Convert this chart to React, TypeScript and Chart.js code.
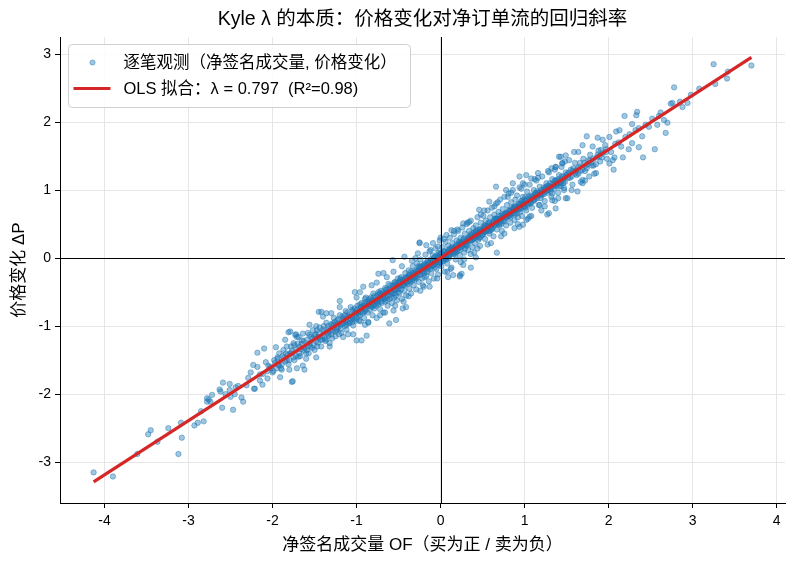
import React, { useEffect, useRef } from "react";
import { Chart, registerables } from "chart.js";

Chart.register(...registerables);

const TITLE = "Kyle λ 的本质：价格变化对净订单流的回归斜率";
const X_LABEL = "净签名成交量 OF（买为正 / 卖为负）";
const Y_LABEL = "价格变化 ΔP";
const SCATTER_LABEL = "逐笔观测（净签名成交量, 价格变化）";
const FIT_LABEL = "OLS 拟合：λ = 0.797  (R²=0.98)";

const xTicks = [-4, -3, -2, -1, 0, 1, 2, 3, 4];
const yTicks = [-3, -2, -1, 0, 1, 2, 3];
const X_MIN = -4.53;
const X_MAX = 4.1;
const Y_MIN = -3.6;
const Y_MAX = 3.25;

const fitX = [-4.13, 3.7];
const fitY = [-3.29, 2.95];

const lowerTail: number[][] = [
  [-4.13, -3.15], [-3.9, -3.21], [-3.61, -2.88], [-3.48, -2.59], [-3.45, -2.53],
  [-3.37, -2.7], [-3.24, -2.5], [-3.12, -2.88], [-3.09, -2.42], [-3.08, -2.64],
  [-2.93, -2.46], [-2.89, -2.42], [-2.82, -2.4], [-2.85, -2.25], [-2.78, -2.06],
  [-2.78, -2.11], [-2.74, -2.11], [-2.72, -2.01], [-2.63, -1.93], [-2.6, -2.2],
  [-2.59, -1.83], [-2.56, -2.0], [-2.51, -1.85], [-2.51, -1.94], [-2.5, -2.04],
  [-2.47, -2.23], [-2.45, -2.0], [-2.41, -1.88], [-2.37, -2.05], [-2.35, -2.11],
  [-2.31, -1.87], [-2.22, -1.92], [-2.15, -1.8], [-2.12, -1.86], [-1.77, -1.82],
  [-2.23, -1.57], [-2.21, -1.92], [-2.18, -1.39], [-2.18, -1.6], [-2.15, -1.71],
  [-2.1, -1.33], [-2.08, -1.53], [-2.06, -1.77], [-2.03, -1.6], [-1.96, -1.31],
  [-1.94, -1.48], [-1.93, -1.57], [-1.91, -1.75], [-1.89, -1.64], [-1.87, -1.35],
  [-1.85, -1.2], [-1.83, -1.5], [-1.81, -1.09], [-1.8, -1.64], [-1.79, -1.4],
  [-1.76, -1.81], [-1.75, -1.25], [-1.73, -1.13], [-1.71, -1.62], [-1.69, -1.45],
  [-1.68, -1.3], [-1.65, -1.21], [-1.64, -1.11], [-1.62, -1.64], [-1.6, -1.48],
  [-1.59, -1.35], [-1.56, -1.25], [-1.56, -1.13], [-1.52, -1.06], [-1.5, -1.35],
  [-1.48, -1.0], [-1.46, -1.16], [-1.45, -0.79], [-1.79, -1.08], [-1.71, -1.16],
  [-1.42, -0.79], [-1.36, -0.81], [-1.3, -0.81], [-1.2, -0.63], [-1.16, -1.16],
  [-1.04, -1.12], [-1.02, -0.5], [-1.0, -1.21], [-0.94, -1.21], [-0.88, -1.14],
  [-0.92, -0.42], [-2.76, -2.08], [-2.62, -1.96], [-2.44, -1.9], [-2.29, -1.76],
  [-2.26, -1.68], [-2.0, -1.68], [-1.98, -1.5], [-1.95, -1.62], [-1.92, -1.4],
  [-1.89, -1.56], [-1.86, -1.46], [-1.83, -1.3], [-1.8, -1.5], [-1.77, -1.36],
  [-1.74, -1.28], [-1.72, -1.44], [-1.69, -1.16], [-1.66, -1.34], [-1.63, -1.22],
  [-1.6, -1.4], [-1.58, -1.1], [-1.55, -1.3], [-1.52, -1.18],
];

const coreNeg: number[][] = [
  [-1.48, -1.22], [-1.45, -1.1], [-1.42, -1.3], [-1.4, -1.05], [-1.38, -1.18],
  [-1.36, -0.95], [-1.34, -1.12], [-1.32, -1.25], [-1.3, -0.98], [-1.28, -1.08],
  [-1.27, -0.88], [-1.25, -1.15], [-1.23, -0.92], [-1.22, -1.02], [-1.2, -0.84],
  [-1.18, -1.1], [-1.17, -0.97], [-1.15, -0.9], [-1.13, -0.78], [-1.12, -1.05],
  [-1.1, -0.86], [-1.08, -0.95], [-1.07, -0.72], [-1.05, -0.88], [-1.04, -0.99],
  [-1.02, -0.8], [-1.01, -0.92], [-0.99, -0.7], [-0.98, -0.85], [-0.96, -0.78],
  [-0.95, -0.93], [-0.94, -0.66], [-0.92, -0.74], [-0.91, -0.88], [-0.9, -0.6],
  [-0.88, -0.71], [-0.87, -0.8], [-0.86, -0.95], [-0.85, -0.65], [-0.83, -0.58],
  [-0.82, -0.72], [-0.81, -0.84], [-0.8, -0.52], [-0.78, -0.63], [-0.77, -0.7],
  [-0.76, -0.88], [-0.75, -0.55], [-0.74, -0.61], [-0.72, -0.75], [-0.71, -0.48],
  [-0.7, -0.66], [-0.69, -0.57], [-0.68, -0.8], [-0.66, -0.44], [-0.65, -0.52],
  [-0.64, -0.62], [-0.63, -0.7], [-0.62, -0.38], [-0.6, -0.5], [-0.59, -0.58],
  [-0.58, -0.66], [-0.57, -0.42], [-0.56, -0.77], [-0.55, -0.47], [-0.54, -0.35],
  [-0.53, -0.55], [-0.52, -0.62], [-0.51, -0.3], [-0.5, -0.45], [-0.49, -0.52],
  [-0.48, -0.36], [-0.47, -0.28], [-0.46, -0.6], [-0.45, -0.4], [-0.44, -0.33],
  [-0.43, -0.48], [-0.42, -0.22], [-0.41, -0.55], [-0.4, -0.3], [-0.39, -0.38],
  [-0.38, -0.18], [-0.37, -0.45], [-0.36, -0.27], [-0.35, -0.52], [-0.34, -0.33],
  [-0.33, -0.12], [-0.32, -0.4], [-0.31, -0.22], [-0.3, -0.28], [-0.29, -0.46],
  [-0.28, -0.08], [-0.27, -0.18], [-0.26, -0.35], [-0.25, -0.25], [-0.24, -0.02],
  [-0.23, -0.14], [-0.22, -0.3], [-0.21, -0.4], [-0.2, -0.1], [-0.19, -0.2],
  [-0.18, 0.05], [-0.17, -0.26], [-0.16, -0.06], [-0.15, -0.15], [-0.14, -0.34],
  [-0.13, 0.1], [-0.12, -0.02], [-0.11, -0.22], [-0.1, -0.12], [-0.09, 0.04],
  [-0.08, -0.3], [-0.07, -0.05], [-0.06, 0.14], [-0.05, -0.16], [-0.04, 0.0],
  [-0.03, -0.24], [-0.02, 0.08], [-0.01, -0.08], [-0.95, -0.72], [-0.88, -0.64],
  [-0.79, -0.74], [-0.73, -0.52], [-0.67, -0.6], [-0.61, -0.46], [-0.55, -0.52],
  [-0.49, -0.34], [-0.43, -0.4], [-0.37, -0.24], [-0.31, -0.32], [-0.25, -0.14],
  [-0.19, -0.28], [-0.13, -0.06], [-0.07, -0.14], [-0.01, 0.06], [-1.05, -0.76],
  [-1.11, -0.94], [-1.17, -0.86], [-1.23, -1.04], [-1.29, -0.96], [-1.35, -1.1],
  [-1.41, -1.16], [-1.47, -1.06], [-0.74, -0.23], [-0.68, -0.22], [-0.57, -0.03],
  [-0.43, 0.02], [-0.27, 0.07], [-0.25, 0.22], [-0.17, 0.19], [-0.09, 0.22],
  [-0.41, -0.72], [-0.45, -0.74], [-0.53, -0.91], [-0.61, -0.96], [-0.01, 0.26],
  [-0.03, 0.17], [-0.13, -0.42], [-0.25, 0.23],
];

const corePos: number[][] = [
  [0.0, 0.02], [0.01, -0.12], [0.02, 0.16], [0.03, -0.04], [0.04, 0.1],
  [0.05, -0.2], [0.06, 0.24], [0.07, 0.05], [0.08, -0.08], [0.09, 0.18],
  [0.1, 0.0], [0.11, 0.3], [0.12, 0.12], [0.13, -0.14], [0.14, 0.22],
  [0.15, 0.06], [0.16, 0.35], [0.17, 0.15], [0.18, -0.02], [0.19, 0.26],
  [0.2, 0.1], [0.21, 0.4], [0.22, 0.2], [0.23, 0.04], [0.24, 0.3],
  [0.25, 0.16], [0.26, 0.45], [0.27, 0.24], [0.28, 0.08], [0.29, 0.36],
  [0.3, 0.2], [0.31, 0.5], [0.32, 0.28], [0.33, 0.12], [0.34, 0.4],
  [0.35, 0.26], [0.36, 0.55], [0.37, 0.32], [0.38, 0.16], [0.39, 0.44],
  [0.4, 0.3], [0.41, 0.22], [0.42, 0.48], [0.43, 0.36], [0.44, 0.6],
  [0.45, 0.27], [0.46, 0.42], [0.47, 0.18], [0.48, 0.52], [0.49, 0.38],
  [0.5, 0.34], [0.51, 0.62], [0.52, 0.45], [0.53, 0.28], [0.54, 0.55],
  [0.55, 0.4], [0.56, 0.7], [0.57, 0.48], [0.58, 0.36], [0.59, 0.6],
  [0.6, 0.44], [0.61, 0.74], [0.62, 0.52], [0.63, 0.32], [0.64, 0.64],
  [0.65, 0.5], [0.66, 0.8], [0.67, 0.42], [0.68, 0.58], [0.69, 0.68],
  [0.7, 0.48], [0.71, 0.86], [0.72, 0.6], [0.73, 0.4], [0.74, 0.72],
  [0.75, 0.55], [0.76, 0.9], [0.77, 0.64], [0.78, 0.48], [0.79, 0.78],
  [0.8, 0.62], [0.81, 0.95], [0.82, 0.7], [0.83, 0.52], [0.84, 0.82],
  [0.85, 0.66], [0.86, 1.0], [0.87, 0.74], [0.88, 0.56], [0.89, 0.86],
  [0.9, 0.7], [0.91, 0.92], [0.92, 0.6], [0.93, 0.78], [0.94, 1.04],
  [0.95, 0.68], [0.96, 0.84], [0.97, 0.62], [0.98, 0.9], [0.99, 0.76],
  [1.0, 0.86], [1.02, 0.7], [1.03, 0.98], [1.05, 0.82], [1.06, 1.08],
  [1.08, 0.9], [1.09, 0.74], [1.11, 1.0], [1.12, 0.86], [1.14, 1.14],
  [1.15, 0.94], [1.17, 0.78], [1.18, 1.05], [1.2, 0.92], [1.21, 1.2],
  [1.23, 1.0], [1.24, 0.84], [1.26, 1.1], [1.27, 0.96], [1.29, 1.26],
  [1.3, 1.04], [1.32, 0.9], [1.33, 1.16], [1.35, 1.02], [1.36, 1.3],
  [1.38, 1.1], [1.4, 0.96], [1.41, 1.22], [1.43, 1.06], [1.44, 1.34],
  [1.46, 1.14], [1.47, 1.0], [1.49, 1.26], [0.05, 0.0], [0.11, 0.14],
  [0.17, 0.06], [0.23, 0.22], [0.29, 0.14], [0.35, 0.32], [0.41, 0.36],
  [0.47, 0.3], [0.53, 0.46], [0.59, 0.4], [0.65, 0.58], [0.71, 0.52],
  [0.77, 0.66], [0.83, 0.6], [0.89, 0.76], [0.95, 0.72], [1.01, 0.9],
  [1.07, 0.8], [1.13, 0.96], [1.19, 0.88], [1.25, 1.04], [1.31, 0.98],
  [1.37, 1.14], [1.43, 1.1], [0.66, 1.05], [0.78, 1.0], [0.67, 0.08],
  [0.42, 0.01], [0.36, -0.14], [0.27, -0.1], [0.25, -0.23], [0.23, -0.25],
  [0.15, -0.25], [0.09, -0.28], [0.23, -0.27], [0.58, 0.83], [0.46, 0.71],
  [0.34, 0.53], [0.27, 0.51], [0.13, 0.41], [0.07, 0.34], [0.94, 0.46],
  [0.98, 0.49], [1.02, 0.56], [1.06, 0.61], [1.27, 0.64], [1.18, 0.78],
  [1.37, 1.34], [1.45, 1.4], [1.49, 0.88], [1.33, 0.95], [1.41, 1.05],
  [1.47, 1.03], [1.16, 1.25], [1.08, 1.17], [0.98, 1.1], [0.86, 1.1],
  [0.94, 1.2], [1.02, 1.22], [1.29, 0.66], [1.37, 0.73], [1.33, 0.85],
];

const coreExtra: number[][] = [
  [-1.58, -1.3], [-1.54, -1.16], [-1.51, -1.28], [-1.49, -1.12], [-1.46, -1.24],
  [-1.44, -1.02], [-1.41, -1.2], [-1.39, -1.08], [-1.37, -1.22], [-1.34, -1.0],
  [-1.33, -1.14], [-1.31, -1.06], [-1.29, -1.18], [-1.26, -0.94], [-1.24, -1.06],
  [-1.22, -0.9], [-1.21, -1.12], [-1.19, -0.98], [-1.16, -0.88], [-1.14, -1.0],
  [-1.13, -0.92], [-1.11, -0.8], [-1.09, -0.96], [-1.06, -0.86], [-1.04, -0.78],
  [-1.03, -0.9], [-1.0, -0.82], [-0.99, -0.76], [-0.97, -0.92], [-0.96, -0.68],
  [-0.93, -0.8], [-0.92, -0.7], [-0.9, -0.78], [-0.89, -0.58], [-0.87, -0.68],
  [-0.84, -0.76], [-0.84, -0.62], [-0.82, -0.66], [-0.8, -0.7], [-0.79, -0.56],
  [-0.77, -0.62], [-0.75, -0.66], [-0.74, -0.5], [-0.72, -0.58], [-0.71, -0.64],
  [-0.69, -0.5], [-0.67, -0.52], [-0.66, -0.64], [-0.64, -0.46], [-0.63, -0.56],
  [-0.61, -0.6], [-0.6, -0.4], [-0.58, -0.5], [-0.56, -0.4], [-0.55, -0.58],
  [-0.53, -0.38], [-0.52, -0.46], [-0.5, -0.36], [-0.49, -0.42], [-0.47, -0.46],
  [-0.46, -0.32], [-0.44, -0.4], [-0.42, -0.3], [-0.41, -0.36], [-0.39, -0.28],
  [-0.38, -0.34], [-0.36, -0.36], [-0.35, -0.2], [-0.33, -0.3], [-0.32, -0.24],
  [-0.3, -0.18], [-0.29, -0.3], [-0.27, -0.22], [-0.26, -0.12], [-0.24, -0.24],
  [-0.23, -0.18], [-0.21, -0.12], [-0.2, -0.22], [-0.18, -0.1], [-0.17, -0.16],
  [-0.15, -0.04], [-0.14, -0.14], [-0.12, -0.12], [-0.11, -0.04], [-0.09, -0.1],
  [-0.08, 0.0], [-0.06, -0.08], [-0.05, 0.04], [-0.03, -0.06], [-0.02, -0.02],
  [0.0, -0.06], [0.01, 0.06], [0.03, 0.02], [0.04, -0.04], [0.06, 0.08],
  [0.07, -0.02], [0.09, 0.1], [0.1, 0.04], [0.12, 0.06], [0.13, 0.14],
  [0.15, 0.12], [0.16, 0.08], [0.18, 0.18], [0.19, 0.12], [0.21, 0.14],
  [0.22, 0.24], [0.24, 0.16], [0.25, 0.22], [0.27, 0.18], [0.28, 0.28],
  [0.3, 0.24], [0.31, 0.18], [0.33, 0.3], [0.34, 0.24], [0.36, 0.34],
  [0.37, 0.26], [0.39, 0.3], [0.4, 0.38], [0.42, 0.3], [0.43, 0.4],
  [0.45, 0.36], [0.46, 0.3], [0.48, 0.42], [0.49, 0.34], [0.51, 0.44],
  [0.52, 0.38], [0.54, 0.48], [0.55, 0.42], [0.57, 0.4], [0.58, 0.52],
  [0.6, 0.48], [0.61, 0.42], [0.63, 0.54], [0.64, 0.48], [0.66, 0.58],
  [0.67, 0.52], [0.69, 0.5], [0.7, 0.62], [0.72, 0.56], [0.73, 0.64],
  [0.75, 0.6], [0.76, 0.54], [0.78, 0.66], [0.79, 0.6], [0.81, 0.7],
  [0.82, 0.62], [0.84, 0.68], [0.85, 0.74], [0.87, 0.66], [0.88, 0.76],
  [0.9, 0.72], [0.91, 0.66], [0.93, 0.8], [0.94, 0.74], [0.96, 0.78],
  [0.97, 0.84], [0.99, 0.8], [1.0, 0.76], [1.02, 0.84], [1.03, 0.78],
  [1.05, 0.9], [1.07, 0.86], [1.08, 0.82], [1.1, 0.92], [1.11, 0.86],
  [1.13, 0.9], [1.15, 0.98], [1.16, 0.92], [1.18, 0.96], [1.2, 1.0],
  [1.21, 0.94], [1.23, 1.04], [1.25, 0.98], [1.27, 1.06], [1.28, 1.0],
  [1.3, 1.1], [1.32, 1.04], [1.34, 1.08], [1.36, 1.14], [1.38, 1.06],
  [1.4, 1.16], [1.42, 1.12], [1.44, 1.2], [1.46, 1.1], [1.48, 1.18],
  [1.5, 1.22], [1.53, 1.26], [1.56, 1.2], [1.58, 1.32], [1.61, 1.28],
  [1.64, 1.24], [1.66, 1.4], [1.69, 1.3], [1.73, 1.36], [1.76, 1.44],
  [1.79, 1.4], [1.82, 1.46], [1.85, 1.38], [1.89, 1.5], [-1.62, -1.32],
  [-1.65, -1.26], [-1.68, -1.4], [-1.72, -1.34], [-1.75, -1.46], [-1.78, -1.4],
  [-1.82, -1.42], [-1.85, -1.52], [-1.88, -1.44], [-1.92, -1.58], [-1.97, -1.54],
  [-2.02, -1.62], [-2.06, -1.66], [-2.11, -1.7],
];

const coreDense: number[][] = [
  [-2.05, -1.58], [-1.99, -1.66], [-1.94, -1.46], [-1.9, -1.62], [-1.84, -1.4],
  [-1.81, -1.56], [-1.78, -1.3], [-1.74, -1.5], [-1.7, -1.26], [-1.67, -1.44],
  [-1.63, -1.36], [-1.59, -1.2], [-1.57, -1.4], [-1.53, -1.32], [-1.5, -1.14],
  [-1.47, -1.3], [-1.43, -1.2], [-1.39, -1.0], [-1.36, -1.2], [-1.33, -1.04],
  [-1.3, -1.12], [-1.27, -0.98], [-1.25, -1.08], [-1.22, -0.96], [-1.19, -1.04],
  [-1.16, -0.96], [-1.14, -0.84], [-1.12, -0.98], [-1.09, -0.84], [-1.07, -0.9],
  [-1.05, -0.94], [-1.02, -0.74], [-1.0, -0.88], [-0.98, -0.8], [-0.96, -0.84],
  [-0.94, -0.72], [-0.92, -0.8], [-0.9, -0.66], [-0.89, -0.76], [-0.86, -0.7],
  [-0.85, -0.6], [-0.83, -0.7], [-0.81, -0.62], [-0.79, -0.68], [-0.78, -0.58],
  [-0.76, -0.64], [-0.74, -0.68], [-0.72, -0.52], [-0.7, -0.6], [-0.68, -0.54],
  [-0.66, -0.58], [-0.65, -0.46], [-0.63, -0.5], [-0.61, -0.54], [-0.59, -0.44],
  [-0.57, -0.52], [-0.55, -0.36], [-0.54, -0.46], [-0.52, -0.4], [-0.5, -0.5],
  [-0.48, -0.3], [-0.47, -0.4], [-0.45, -0.34], [-0.43, -0.36], [-0.41, -0.28],
  [-0.4, -0.36], [-0.38, -0.26], [-0.36, -0.32], [-0.35, -0.28], [-0.33, -0.22],
  [-0.31, -0.28], [-0.29, -0.2], [-0.28, -0.26], [-0.26, -0.18], [-0.24, -0.12],
  [-0.22, -0.2], [-0.21, -0.16], [-0.19, -0.08], [-0.17, -0.12], [-0.16, -0.2],
  [-0.14, -0.08], [-0.12, -0.16], [-0.1, -0.04], [-0.08, -0.1], [-0.07, 0.02],
  [-0.05, -0.06], [-0.03, 0.02], [-0.02, -0.1], [0.0, 0.08], [0.02, -0.02],
  [0.04, 0.04], [0.05, 0.1], [0.07, 0.0], [0.08, 0.08], [0.1, 0.12],
  [0.11, 0.04], [0.13, 0.08], [0.14, 0.16], [0.16, 0.14], [0.18, 0.08],
  [0.19, 0.18], [0.21, 0.2], [0.23, 0.12], [0.24, 0.22], [0.26, 0.2],
  [0.27, 0.28], [0.29, 0.22], [0.31, 0.26], [0.32, 0.2], [0.34, 0.3],
  [0.36, 0.26], [0.37, 0.36], [0.39, 0.28], [0.41, 0.34], [0.42, 0.4],
  [0.44, 0.32], [0.46, 0.38], [0.47, 0.42], [0.49, 0.4], [0.51, 0.36],
  [0.52, 0.48], [0.54, 0.4], [0.56, 0.46], [0.57, 0.52], [0.59, 0.46],
  [0.61, 0.5], [0.62, 0.44], [0.64, 0.56], [0.66, 0.5], [0.67, 0.58],
  [0.69, 0.56], [0.71, 0.58], [0.72, 0.5], [0.74, 0.62], [0.76, 0.64],
  [0.77, 0.58], [0.79, 0.66], [0.81, 0.62], [0.83, 0.7], [0.84, 0.64],
  [0.86, 0.72], [0.88, 0.7], [0.89, 0.64], [0.91, 0.76], [0.93, 0.72],
  [0.95, 0.8], [0.96, 0.74], [0.98, 0.82], [1.0, 0.8], [1.01, 0.74],
  [1.03, 0.86], [1.05, 0.8], [1.07, 0.92], [1.09, 0.88], [1.11, 0.84],
  [1.13, 0.94], [1.15, 0.88], [1.17, 0.96], [1.19, 0.94], [1.21, 0.98],
  [1.23, 0.94], [1.25, 1.02], [1.27, 1.0], [1.29, 1.06], [1.31, 1.02],
  [1.33, 1.1], [1.35, 1.06], [1.37, 1.08], [1.39, 1.14], [1.41, 1.1],
  [1.44, 1.16], [1.46, 1.2], [1.48, 1.12], [1.51, 1.24], [1.54, 1.18],
  [1.57, 1.28], [1.6, 1.24], [1.63, 1.32], [1.67, 1.28], [1.71, 1.4],
  [1.74, 1.32], [1.78, 1.44], [1.82, 1.36], [1.87, 1.52], [1.92, 1.48],
  [1.97, 1.6], [2.03, 1.56], [2.08, 1.68], [2.15, 1.64],
];

const coreWide: number[][] = [
  [-1.4, -0.86], [-1.32, -1.3], [-1.2, -0.72], [-1.1, -1.12], [-1.0, -0.58],
  [-0.9, -0.98], [-0.82, -0.4], [-0.72, -0.84], [-0.64, -0.28], [-0.54, -0.7],
  [-0.46, -0.12], [-0.38, -0.56], [-0.3, 0.0], [-0.2, -0.42], [-0.12, 0.12],
  [-0.04, -0.3], [0.04, 0.28], [0.12, -0.16], [0.2, 0.42], [0.28, -0.02],
  [0.36, 0.06], [0.44, 0.14], [0.52, 0.7], [0.6, 0.22], [0.68, 0.82],
  [0.76, 0.36], [0.84, 0.96], [0.92, 0.5], [1.0, 1.08], [1.08, 0.62],
  [1.16, 1.18], [1.24, 0.76], [1.32, 1.32], [1.4, 0.88], [1.48, 1.42],
  [1.56, 1.0], [1.64, 1.56], [1.72, 1.14], [-1.48, -1.46], [-1.56, -0.98],
  [-1.64, -1.58], [-1.72, -1.12], [-0.96, -0.5], [-0.86, -0.94], [-0.76, -0.36],
  [-0.66, -0.8], [-0.56, -0.2], [-0.44, -0.64], [-0.34, -0.04], [-0.24, -0.48],
  [0.0, 0.3], [0.08, -0.2], [0.16, 0.4], [0.24, -0.06], [0.32, 0.52],
  [0.4, 0.08], [0.48, 0.64], [0.56, 0.2], [0.64, 0.76], [0.72, 0.32],
  [0.8, 0.9], [0.88, 0.44], [0.96, 1.02], [1.04, 0.58], [1.12, 1.16],
  [1.2, 0.7], [1.28, 1.28], [1.36, 0.84],
];

const upperTail: number[][] = [
  [3.25, 2.85], [3.42, 2.74], [3.41, 2.64], [3.27, 2.56], [3.7, 2.83],
  [3.08, 2.49], [2.98, 2.4], [2.94, 2.28], [2.88, 2.22], [2.78, 2.51],
  [2.76, 2.28], [2.74, 2.27], [2.7, 1.99], [2.68, 1.84], [2.66, 2.03],
  [2.6, 2.09], [2.58, 1.96], [2.55, 1.6], [2.41, 1.48], [2.34, 2.15],
  [2.33, 2.1], [2.19, 2.09], [2.4, 1.79], [2.36, 1.63], [2.44, 1.96],
  [2.48, 1.93], [2.36, 1.91], [2.32, 1.88], [2.28, 1.97], [2.24, 1.6],
  [2.28, 1.69], [2.17, 1.48], [2.07, 1.48], [2.06, 1.3], [1.74, 1.79],
  [1.87, 1.77], [1.93, 1.74], [2.01, 1.78], [2.09, 1.86], [2.13, 1.88],
  [1.69, 1.66], [1.59, 1.56], [1.49, 1.51], [1.81, 1.64], [1.91, 1.59],
  [1.97, 1.56], [2.05, 1.44], [2.01, 1.39], [1.85, 1.25], [1.77, 1.2],
  [1.69, 1.15], [1.53, 1.44], [1.45, 1.39], [1.41, 1.49], [1.51, 0.88],
  [1.63, 0.98], [1.69, 1.1], [1.43, 1.49], [1.37, 1.34], [1.52, 1.18],
  [1.55, 1.3], [1.57, 1.08], [1.6, 1.4], [1.62, 1.22], [1.65, 1.34],
  [1.67, 1.12], [1.7, 1.46], [1.72, 1.28], [1.75, 1.38], [1.78, 1.52],
  [1.8, 1.36], [1.83, 1.24], [1.86, 1.48], [1.88, 1.58], [1.9, 1.42],
  [1.93, 1.54], [1.96, 1.66], [1.98, 1.46], [2.12, 1.7], [2.2, 1.78],
  [2.25, 1.82], [2.52, 2.05], [2.62, 2.14], [2.85, 2.3],
];

const FONT = "'Liberation Sans', 'Noto Sans CJK SC', sans-serif";
const BLUE_FILL = "rgba(31,119,180,0.42)";
const BLUE_EDGE = "rgba(31,119,180,0.45)";
const RED = "#d62728";

export default function App() {
  const ref = useRef<HTMLCanvasElement | null>(null);

  useEffect(() => {
    document.body.style.margin = "0";
    const canvas = ref.current;
    if (!canvas) return;

    const points = [
      ...lowerTail,
      ...coreNeg,
      ...corePos,
      ...coreExtra,
      ...coreDense,
      ...coreWide,
      ...upperTail,
    ].map(([x, y]) => ({ x, y }));
    const fitPoints = fitX.map((x, i) => ({ x, y: fitY[i] }));

    const centerTitle = {
      id: "centerTitle",
      afterLayout(chart: any) {
        const tb = chart.titleBlock;
        if (tb) {
          tb.left = chart.chartArea.left;
          tb.right = chart.chartArea.right;
        }
      },
    };

    const zeroLines = {
      id: "zeroLines",
      afterDatasetDraw(chart: any, args: any) {
        if (args.index !== 0) return;
        const { ctx, chartArea, scales } = chart;
        const x0 = Math.round(scales.x.getPixelForValue(0)) + 0.5;
        const y0 = Math.round(scales.y.getPixelForValue(0)) + 0.5;
        ctx.save();
        ctx.strokeStyle = "#000";
        ctx.lineWidth = 1;
        ctx.beginPath();
        ctx.moveTo(chartArea.left, y0);
        ctx.lineTo(chartArea.right, y0);
        ctx.moveTo(x0, chartArea.top);
        ctx.lineTo(x0, chartArea.bottom);
        ctx.stroke();
        ctx.restore();
      },
    };

    const boxLegend = {
      id: "boxLegend",
      afterDraw(chart: any) {
        const { ctx, chartArea } = chart;
        const left = chartArea.left + 8.5;
        const top = chartArea.top + 7.5;
        const w = 342;
        const h = 63;
        const r = 4;
        ctx.save();
        ctx.fillStyle = "rgba(255,255,255,0.85)";
        ctx.strokeStyle = "#d0d0d0";
        ctx.lineWidth = 1;
        ctx.beginPath();
        ctx.moveTo(left + r, top);
        ctx.lineTo(left + w - r, top);
        ctx.arcTo(left + w, top, left + w, top + r, r);
        ctx.lineTo(left + w, top + h - r);
        ctx.arcTo(left + w, top + h, left + w - r, top + h, r);
        ctx.lineTo(left + r, top + h);
        ctx.arcTo(left, top + h, left, top + h - r, r);
        ctx.lineTo(left, top + r);
        ctx.arcTo(left, top, left + r, top, r);
        ctx.closePath();
        ctx.fill();
        ctx.stroke();

        const ds = chart.data.datasets;
        const row1 = top + 18;
        const row2 = top + 44;
        ctx.fillStyle = BLUE_FILL;
        ctx.strokeStyle = BLUE_EDGE;
        ctx.beginPath();
        ctx.arc(left + 24, row1, 2.6, 0, Math.PI * 2);
        ctx.fill();
        ctx.stroke();

        ctx.strokeStyle = RED;
        ctx.lineWidth = 3.2;
        ctx.beginPath();
        ctx.moveTo(left + 5, row2);
        ctx.lineTo(left + 42, row2);
        ctx.stroke();

        ctx.fillStyle = "#000";
        ctx.font = `16.5px ${FONT}`;
        ctx.textBaseline = "middle";
        ctx.textAlign = "left";
        ctx.fillText(ds[0].label, left + 55, row1 + 1);
        ctx.fillText(ds[1].label, left + 55, row2 + 1);
        ctx.restore();
      },
    };

    const chart = new Chart(canvas, {
      type: "scatter",
      data: {
        datasets: [
          {
            type: "scatter",
            label: SCATTER_LABEL,
            data: points,
            backgroundColor: BLUE_FILL,
            borderColor: BLUE_EDGE,
            borderWidth: 1,
            pointRadius: 2.7,
            order: 2,
          },
          {
            type: "line",
            label: FIT_LABEL,
            data: fitPoints,
            borderColor: RED,
            backgroundColor: RED,
            borderWidth: 3.2,
            pointRadius: 0,
            fill: false,
            order: 1,
          } as any,
        ],
      },
      options: {
        animation: false,
        responsive: false,
        maintainAspectRatio: false,
        layout: { padding: { left: 0, right: 10, top: 0, bottom: 0 } },
        plugins: {
          legend: { display: false },
          tooltip: { enabled: false },
          title: {
            display: true,
            text: TITLE,
            color: "#000",
            font: { family: FONT, size: 19.5, weight: "normal" },
            padding: { top: 8, bottom: 5.6 },
          },
        },
        scales: {
          x: {
            type: "linear",
            min: X_MIN,
            max: X_MAX,
            afterBuildTicks: (scale: any) => {
              scale.ticks = xTicks.map((v) => ({ value: v }));
            },
            afterFit: (scale: any) => {
              scale.height = 62;
              scale.paddingLeft = 0;
              scale.paddingRight = 0;
            },
            ticks: {
              color: "#000",
              font: { family: FONT, size: 14 },
              padding: 5,
              maxRotation: 0,
              callback: (v: any) => String(v),
            },
            grid: {
              color: "#e6e6e6",
              lineWidth: 1,
              tickColor: "#000",
              tickLength: 5,
            },
            border: { color: "#000", width: 1 },
            title: {
              display: true,
              text: X_LABEL,
              color: "#000",
              font: { family: FONT, size: 17 },
              padding: { top: 0, bottom: 9.8 },
            },
          },
          y: {
            type: "linear",
            min: Y_MIN,
            max: Y_MAX,
            afterBuildTicks: (scale: any) => {
              scale.ticks = yTicks.map((v) => ({ value: v }));
            },
            afterFit: (scale: any) => {
              scale.width = 60;
              scale.paddingTop = 0;
              scale.paddingBottom = 0;
            },
            ticks: {
              color: "#000",
              font: { family: FONT, size: 14 },
              padding: 4,
              callback: (v: any) => String(v),
            },
            grid: {
              color: "#e6e6e6",
              lineWidth: 1,
              tickColor: "#000",
              tickLength: 5,
            },
            border: { color: "#000", width: 1 },
            title: {
              display: true,
              text: Y_LABEL,
              color: "#000",
              font: { family: FONT, size: 17 },
              padding: { top: 9, bottom: 0 },
            },
          },
        },
      },
      plugins: [centerTitle, zeroLines, boxLegend],
    });

    return () => chart.destroy();
  }, []);

  return (
    <div style={{ width: 795, height: 565 }}>
      <canvas
        ref={ref}
        width={795}
        height={565}
        style={{ width: 795, height: 565, display: "block" }}
      />
    </div>
  );
}
